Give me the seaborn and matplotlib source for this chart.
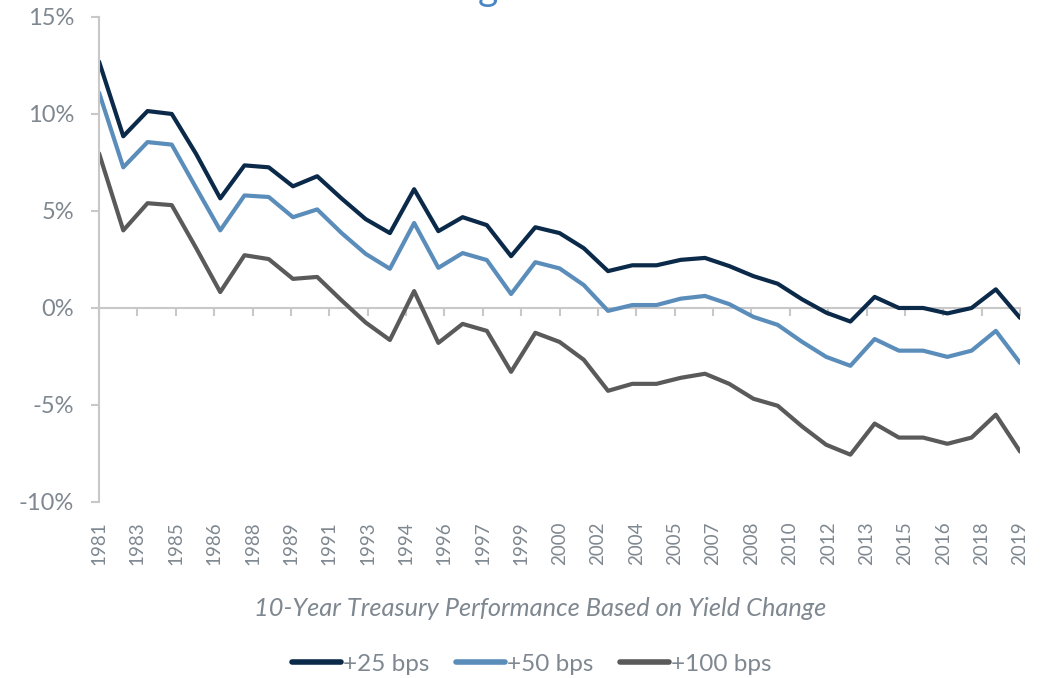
import matplotlib
matplotlib.use("Agg")
import matplotlib.pyplot as plt
import numpy as np
import pandas as pd
import seaborn as sns
from matplotlib.ticker import FuncFormatter

years = list(range(1981, 2020))

bps_25 = [12.7, 8.85, 10.15, 10.0, 7.95, 5.65, 7.35, 7.25, 6.27, 6.79,
          5.65, 4.58, 3.86, 6.12, 3.96, 4.68, 4.27, 2.67, 4.16, 3.86,
          3.08, 1.90, 2.2, 2.2, 2.48, 2.58, 2.16, 1.64, 1.25, 0.45,
          -0.24, -0.70, 0.57, 0.0, 0.0, -0.28, 0.0, 0.96, -0.51]
bps_50 = [11.1, 7.25, 8.55, 8.42, 6.2, 4.0, 5.8, 5.72, 4.68, 5.08,
          3.87, 2.79, 2.02, 4.38, 2.07, 2.83, 2.47, 0.72, 2.36, 2.04,
          1.18, -0.15, 0.15, 0.15, 0.48, 0.62, 0.2, -0.46, -0.87, -1.74,
          -2.52, -2.98, -1.6, -2.2, -2.2, -2.52, -2.2, -1.18, -2.83]
bps_100 = [7.97, 4.0, 5.4, 5.3, 3.1, 0.82, 2.72, 2.52, 1.5, 1.6,
           0.4, -0.75, -1.65, 0.87, -1.8, -0.82, -1.18, -3.29, -1.28, -1.75,
           -2.67, -4.27, -3.91, -3.91, -3.6, -3.39, -3.91, -4.68, -5.04, -6.1,
           -7.05, -7.56, -5.96, -6.68, -6.68, -7.0, -6.68, -5.5, -7.4]

series = ["+25 bps", "+50 bps", "+100 bps"]
colors = ["#0b2a4a", "#5b8dbb", "#5a5a5a"]
tick_labels = ["1981", "1983", "1985", "1986", "1988", "1989", "1991", "1993",
               "1994", "1996", "1997", "1999", "2000", "2002", "2004", "2005",
               "2007", "2008", "2010", "2012", "2013", "2015", "2016", "2018", "2019"]

df = pd.DataFrame({
    "Year": years * 3,
    "Return": bps_25 + bps_50 + bps_100,
    "Scenario": [s for s in series for _ in years],
})

sns.set_style("white")
plt.rcParams['font.family'] = ['Lato', 'DejaVu Sans']

text_col = "#7f8890"
axis_col = "#c8c8c8"

fig = plt.figure(figsize=(10.46, 6.78), dpi=100)
ax = fig.add_axes([0.0947, 0.2596, 0.8805, 0.7154])

sns.lineplot(data=df, x="Year", y="Return", hue="Scenario", palette=dict(zip(series, colors)),
             linewidth=3, ax=ax, legend=False)

ax.set_xlim(1981, 2019)
ax.set_ylim(-10, 15)
ax.set_yticks([-10, -5, 0, 5, 10, 15])
ax.yaxis.set_major_formatter(FuncFormatter(lambda v, p: f"{v:.0f}%"))
ticks = np.linspace(1981, 2019, len(tick_labels))
ax.set_xticks(ticks)
ax.set_xticklabels(tick_labels, rotation=90)

for s in ["top", "right", "bottom"]:
    ax.spines[s].set_visible(False)
ax.spines["left"].set_color(axis_col)
ax.spines["left"].set_linewidth(1.5)
ax.tick_params(axis="y", colors=axis_col, labelcolor=text_col, labelsize=17,
               length=6, width=1.5, direction="out", pad=12, left=True)
ax.tick_params(axis="x", labelcolor=text_col, labelsize=13.5, length=0, pad=14)

# zero line with tick marks
zero = ax.secondary_xaxis((0 - (-10)) / 25)
zero.set_xticks(ticks)
zero.set_xticklabels([])
zero.spines["bottom"].set_color(axis_col)
zero.spines["bottom"].set_linewidth(1.5)
zero.tick_params(axis="x", colors=axis_col, length=6, width=1.5, direction="out")
zero.set_zorder(0)

ax.set_xlabel("")
ax.set_ylabel("")
fig.text(540 / 1046, 1 - 608 / 678, "10-Year Treasury Performance Based on Yield Change",
         color=text_col, fontsize=18.3, style="italic", ha="center", va="center")

handles = [plt.Line2D([], [], color=c, lw=4) for c in colors]
fig.legend(handles, series, loc="center", bbox_to_anchor=(532 / 1046, 1 - 664 / 678), ncol=3,
           frameon=False, fontsize=17.5, labelcolor=text_col, handlelength=2.0,
           handletextpad=0.1, columnspacing=1.1)

# title cut off at the top of the image
fig.text(488 / 1046, 1.0, "g", color="#4a86c5", fontsize=28, ha="center", va="baseline")

fig.savefig("out.png", dpi=100)
